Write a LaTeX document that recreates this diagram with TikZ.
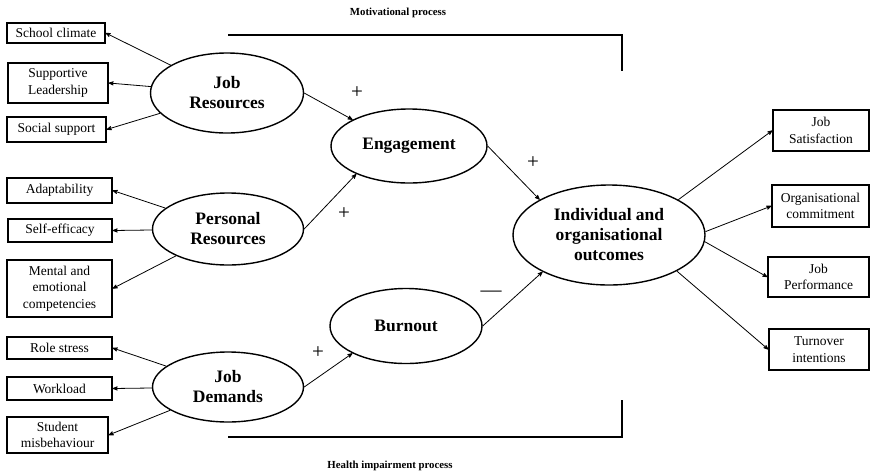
\documentclass[tikz,border=0pt]{standalone}
\usepackage{fontspec}
\setmainfont{Liberation Serif}
\usetikzlibrary{arrows,shapes.geometric}

\begin{document}
\begin{tikzpicture}[x=1pt,y=-1pt,
       box/.style={rectangle,draw,line width=1.3pt,inner sep=0pt,align=center,font=\fontsize{13.5}{16.5}\selectfont},
       latent/.style={ellipse,draw,line width=1.4pt,inner sep=0pt,align=center,font=\fontsize{17.5}{20}\selectfont\bfseries},
       sign/.style={font=\fontsize{21}{21}\selectfont},
       caption/.style={font=\fontsize{10.8}{12}\selectfont\bfseries},
       link/.style={->,line width=0.8pt,>=stealth'}]
       \useasboundingbox (0,0) rectangle (871,475);

       % latent constructs
       \node[latent,minimum width=153pt,minimum height=80pt] (jobres) at (227,93) {Job\\Resources};
       \node[latent,minimum width=151pt,minimum height=72pt] (persres) at (228,229) {Personal\\Resources};
       \node[latent,minimum width=151pt,minimum height=70pt] (jobdem) at (228,387) {Job\\Demands};
       \node[latent,minimum width=156pt,minimum height=74pt] (engage) at (409,146) {Engagement};
       \node[latent,minimum width=152pt,minimum height=75pt] (burnout) at (406,326) {Burnout};
       \node[latent,minimum width=192pt,minimum height=100pt] (outcome) at (609,235) {Individual and\\organisational\\outcomes};

       % indicators left
       \node[box,minimum width=98pt,minimum height=20pt] (climate) at (56,33) {School climate};
       \node[box,minimum width=100pt,minimum height=40pt] (leader) at (58,83) {Supportive\\Leadership};
       \node[box,minimum width=99pt,minimum height=25pt] (social) at (56.5,129.5) {Social support};
       \node[box,minimum width=105pt,minimum height=25pt] (adapt) at (59.5,190.5) {Adaptability};
       \node[box,minimum width=104pt,minimum height=23pt] (efficacy) at (60,230.5) {Self-efficacy};
       \node[box,minimum width=105pt,minimum height=57pt] (mental) at (59.5,288.5) {Mental and\\emotional\\competencies};
       \node[box,minimum width=105pt,minimum height=22pt] (stress) at (59.5,348) {Role stress};
       \node[box,minimum width=105pt,minimum height=23pt] (workload) at (59.5,388.5) {Workload};
       \node[box,minimum width=101pt,minimum height=36pt] (misbeh) at (57.5,435) {Student\\misbehaviour};

       % indicators right
       \node[box,minimum width=96pt,minimum height=41pt] (satis) at (821,130.5) {Job\\Satisfaction};
       \node[box,minimum width=97pt,minimum height=42pt] (commit) at (820.5,206) {Organisational\\commitment};
       \node[box,minimum width=101pt,minimum height=40pt] (perform) at (818.5,277) {Job\\Performance};
       \node[box,minimum width=100pt,minimum height=41pt] (turnover) at (819,349.5) {Turnover\\intentions};

       \draw [link] (jobres) to (climate.east);
       \draw [link] (jobres) to (leader.east);
       \draw [link] (jobres) to (social.east);
       \draw [link] (persres) to (adapt.east);
       \draw [link] (persres) to (efficacy.east);
       \draw [link] (persres) to (mental.east);
       \draw [link] (jobdem) to (stress.east);
       \draw [link] (jobdem) to (workload.east);
       \draw [link] (jobdem) to (misbeh.east);

       \draw [link] (jobres.east) to (engage.155);
       \draw [link] (persres.east) to (engage.208);
       \draw [link] (jobdem.east) to (burnout.207);
       \draw [link] (engage.east) to (outcome.153);
       \draw [link] (burnout.east) to (outcome.209);

       \draw [link] (outcome.27) to (satis.west);
       \draw [link] (outcome.2) to (commit.west);
       \draw [link] (outcome.-4) to (perform.west);
       \draw [link] (outcome.-28) to (turnover.west);

       \node[sign] (plus1) at (357,93) {+};
       \node[sign] (plus2) at (344,214) {+};
       \node[sign] (plus3) at (318,353) {+};
       \node[sign] (plus4) at (533,163) {+};
       \node[sign] (minus1) at (491,294) {---};

       % process brackets
       \draw [line width=1.3pt] (228,35) -- (622,35) -- (622,71);
       \draw [line width=1.3pt] (228,437) -- (622,437) -- (622,400);
       \node[caption] (motiv) at (398,13) {Motivational process};
       \node[caption] (health) at (390,466) {Health impairment process};
\end{tikzpicture}
\end{document}
